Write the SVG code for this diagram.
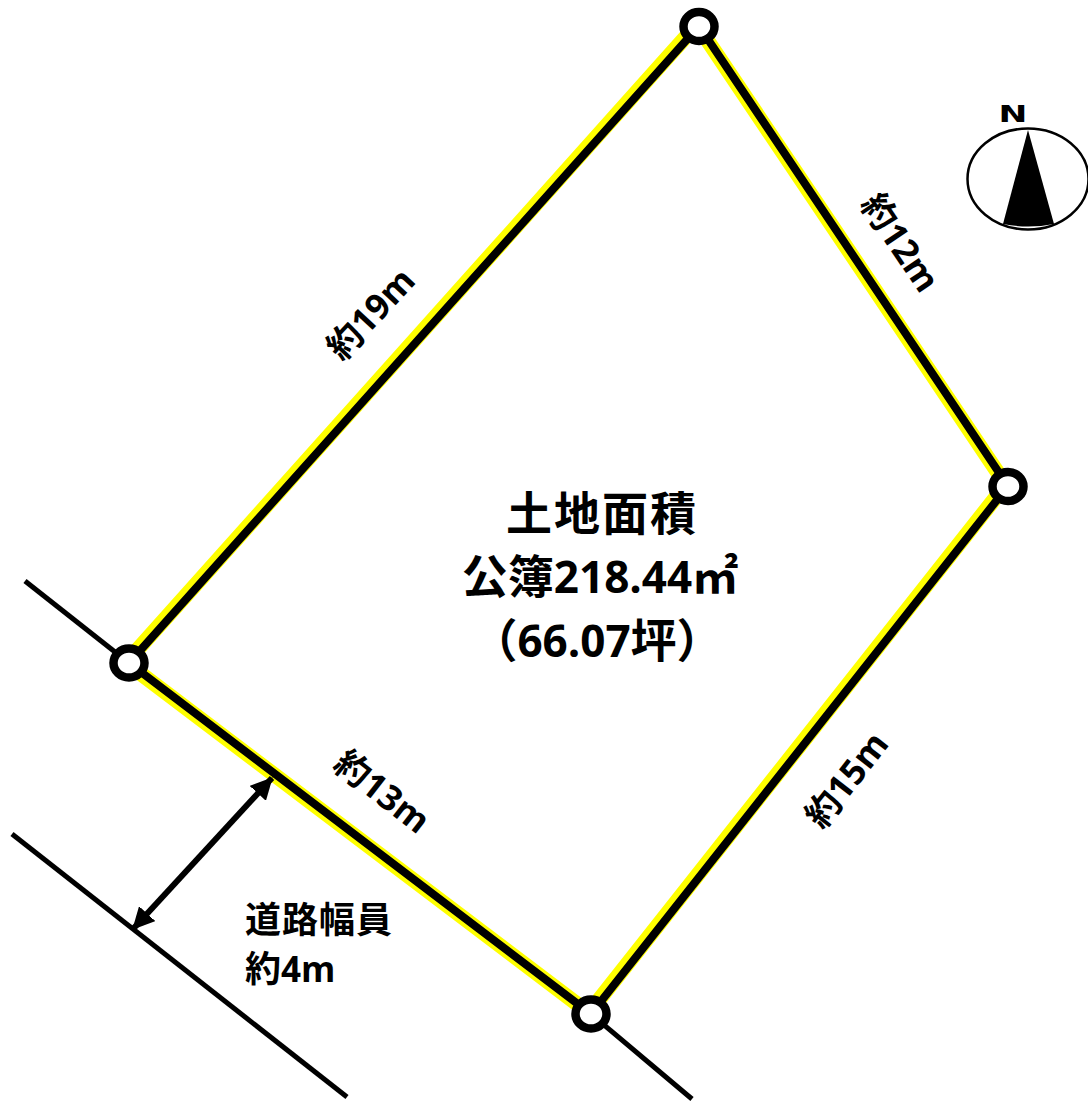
<svg xmlns="http://www.w3.org/2000/svg" width="1088" height="1102" viewBox="0 0 1088 1102">
<style>
text{font-family:"Open Sans","Noto Sans CJK JP",sans-serif;font-weight:700;fill:#000}
.big{font-size:44px;text-anchor:middle}
.cjk{font-size:46px;font-family:"Noto Sans CJK JP",sans-serif}
.lab{font-size:35px;text-anchor:middle}
.road{font-size:36px}
.thin{stroke:#000;stroke-width:5;fill:none}
.ring{fill:#fff;stroke:#000;stroke-width:8.500}
</style>
<defs>
<marker id="ah" markerUnits="userSpaceOnUse" markerWidth="22" markerHeight="22" refX="19" refY="10" orient="auto-start-reverse" viewBox="0 0 20 20"><path d="M0 0L20 10L0 20Z" fill="#000"/></marker>
</defs>
<rect width="1088" height="1102" fill="#fff"/>
<g id="connectors">
<path id="boundary-yellow" d="M127.100 661.300L697.100 24.300M698.200 26.600L1007.200 486.600M1006 484.500L589 1012.500M591 1014.500L128 664" fill="none" stroke="#ff0" stroke-width="15"/>
<path id="boundary" d="M129 663L699 26L1008 486L591 1014Z" fill="none" stroke="#000" stroke-width="8"/>
<path class="thin" d="M25 581L129 663"/>
<path class="thin" d="M591 1014L692 1099"/>
<path class="thin" d="M12 834L347 1097"/>
<path d="M133 929L272 778" stroke="#000" stroke-width="6" fill="none" marker-start="url(#ah)" marker-end="url(#ah)"/>
</g>
<g id="north">
<ellipse cx="1028" cy="179" rx="60.500" ry="50.500" fill="#fff" stroke="#000" stroke-width="2.500"/>
<path d="M1028 130L1003 224Q1028 229 1054 224Z" fill="#000"/>
<text x="0" y="0" font-size="23" text-anchor="middle" transform="translate(1013 121.500) scale(1.5 1)" style="font-family:'DejaVu Sans'">N</text>
</g>
<g id="vertex-b"><ellipse class="ring" cx="699" cy="26.500" rx="15.500" ry="14.500"/></g>
<g id="vertex-c"><ellipse class="ring" cx="1008" cy="486.500" rx="15.500" ry="14.500"/></g>
<g id="vertex-a"><ellipse class="ring" cx="129" cy="663" rx="15.500" ry="14.500"/></g>
<g id="vertex-d"><ellipse class="ring" cx="591" cy="1014" rx="15.500" ry="14.500"/></g>
<g id="area">
<text class="big" x="602" y="530"><tspan class="cjk" letter-spacing="2">土地面積</tspan></text>
<text class="big" x="600" y="593"><tspan class="cjk">公簿</tspan>218.44<tspan class="cjk">㎡</tspan></text>
<text class="big" x="597" y="657"><tspan class="cjk">（</tspan>66.07<tspan class="cjk">坪）</tspan></text>
</g>
<g id="labels">
<text class="lab" transform="translate(371 314) rotate(-47)" y="12">約19m</text>
<text class="lab" transform="translate(900 243) rotate(56)" y="12">約12m</text>
<text class="lab" transform="translate(382 792) rotate(38)" y="12">約13m</text>
<text class="lab" transform="translate(847 780) rotate(-52)" y="12">約15m</text>
<text class="road" x="245" y="933" letter-spacing="1">道路幅員</text>
<text class="road" x="245" y="982">約<tspan font-size="35">4m</tspan></text>
</g>
</svg>
